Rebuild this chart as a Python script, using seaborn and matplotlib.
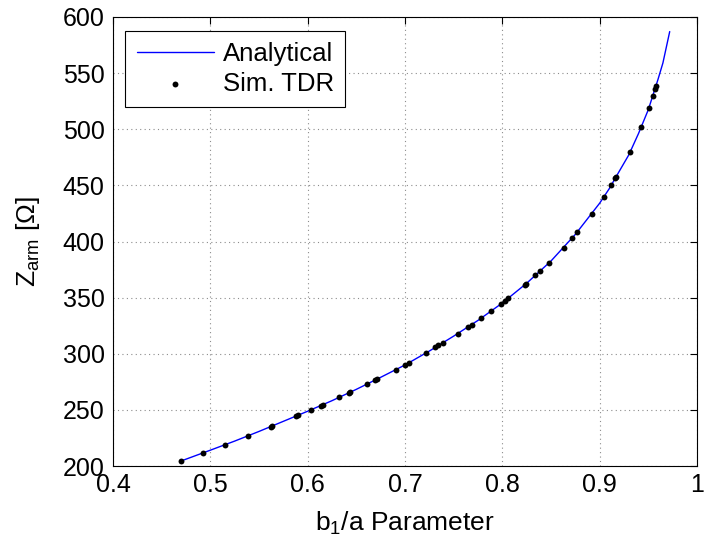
import matplotlib
matplotlib.use("Agg")
import matplotlib.pyplot as plt
import seaborn as sns
import pandas as pd

# Analytical curve
line_x = [0.470, 0.500, 0.525, 0.550, 0.575, 0.600, 0.625, 0.650, 0.675, 0.700,
          0.725, 0.750, 0.775, 0.800, 0.825, 0.850, 0.875, 0.900, 0.910, 0.920,
          0.930, 0.940, 0.950, 0.960, 0.965, 0.972]
line_z = [204.5, 214.1, 222.2, 230.8, 239.8, 248.8, 258.2, 268.3, 279.0, 290.0,
          302.4, 315.7, 329.7, 345.2, 362.8, 382.6, 406.3, 434.1, 447.2, 462.3,
          477.2, 496.3, 517.4, 544.5, 559.0, 587.0]

# Simulated TDR points
sim_x = [0.4695, 0.492, 0.515, 0.539, 0.562, 0.5637, 0.588, 0.5898, 0.6035, 0.614,
         0.616, 0.632, 0.642, 0.6435, 0.661, 0.669, 0.6716, 0.691, 0.700, 0.704,
         0.722, 0.731, 0.734, 0.739, 0.754, 0.765, 0.769, 0.778, 0.788, 0.799,
         0.803, 0.806, 0.823, 0.824, 0.834, 0.839, 0.848, 0.863, 0.872, 0.877,
         0.892, 0.9045, 0.912, 0.9158, 0.9168, 0.9315, 0.943, 0.9507, 0.9545,
         0.957, 0.958]
sim_z = [204.5, 211.6, 218.7, 227.0, 235.0, 235.6, 244.5, 245.2, 250.0, 253.5,
         254.3, 261.2, 264.8, 265.7, 272.8, 276.6, 277.5, 285.8, 290.0, 291.5,
         300.7, 305.7, 307.5, 309.6, 317.9, 324.1, 325.9, 331.6, 337.8, 344.6,
         347.0, 349.4, 361.2, 362.1, 370.4, 373.7, 380.8, 394.5, 403.4, 408.2,
         424.8, 439.4, 450.0, 456.3, 457.7, 479.4, 502.3, 518.9, 529.6,
         535.9, 538.5]

x_ticks = [0.4, 0.5, 0.6, 0.7, 0.8, 0.9, 1.0]
x_ticklabels = ["0.4", "0.5", "0.6", "0.7", "0.8", "0.9", "1"]
y_ticks = [200, 250, 300, 350, 400, 450, 500, 550, 600]

sns.set_style("white")
plt.rcParams["font.family"] = ["Liberation Sans", "DejaVu Sans"]
plt.rcParams["mathtext.fontset"] = "custom"
plt.rcParams["mathtext.rm"] = "Liberation Sans"
plt.rcParams["mathtext.it"] = "Liberation Sans"
for k in ["text.color", "axes.labelcolor", "xtick.color", "ytick.color"]:
    plt.rcParams[k] = "black"

fig = plt.figure(figsize=(7.04, 5.48), dpi=100)
ax = fig.add_axes([0.1605, 0.1496, 0.8295, 0.8194])

df_line = pd.DataFrame({"x": line_x, "z": line_z})
df_sim = pd.DataFrame({"x": sim_x, "z": sim_z})

sns.lineplot(data=df_line, x="x", y="z", ax=ax, color="#0000ff", linewidth=1.0,
             label="Analytical", sort=False)
sns.scatterplot(data=df_sim, x="x", y="z", ax=ax, color="black", s=18,
                linewidth=0, label="Sim. TDR", zorder=3)

ax.set_xlim(0.4, 1.0)
ax.set_ylim(200, 600)
ax.set_xticks(x_ticks)
ax.set_xticklabels(x_ticklabels)
ax.set_yticks(y_ticks)
ax.tick_params(axis="both", which="both", direction="in", top=True, right=True,
               length=5, width=0.8, labelsize=18, color="black")
ax.tick_params(axis="x", pad=5)
ax.tick_params(axis="y", pad=6)
ax.grid(True, linestyle=(0, (1, 3)), color="#8c8c8c", linewidth=0.8)
for s in ax.spines.values():
    s.set_color("black")
    s.set_linewidth(0.8)

ax.set_xlabel(r"b$_{\mathrm{1}}$/a Parameter", fontsize=19, labelpad=9)
ax.set_ylabel(r"Z$_{\mathrm{arm}}$ [Ω]", fontsize=19, labelpad=15)

leg = ax.legend(loc="upper left", fontsize=18.5, frameon=True, fancybox=False,
                framealpha=1, edgecolor="black", handlelength=3.0,
                borderpad=0.45, labelspacing=0.2, handletextpad=0.35,
                borderaxespad=0.0, bbox_to_anchor=(0.0205, 0.969))
leg.get_frame().set_linewidth(0.8)

fig.savefig("out.png", dpi=100)
